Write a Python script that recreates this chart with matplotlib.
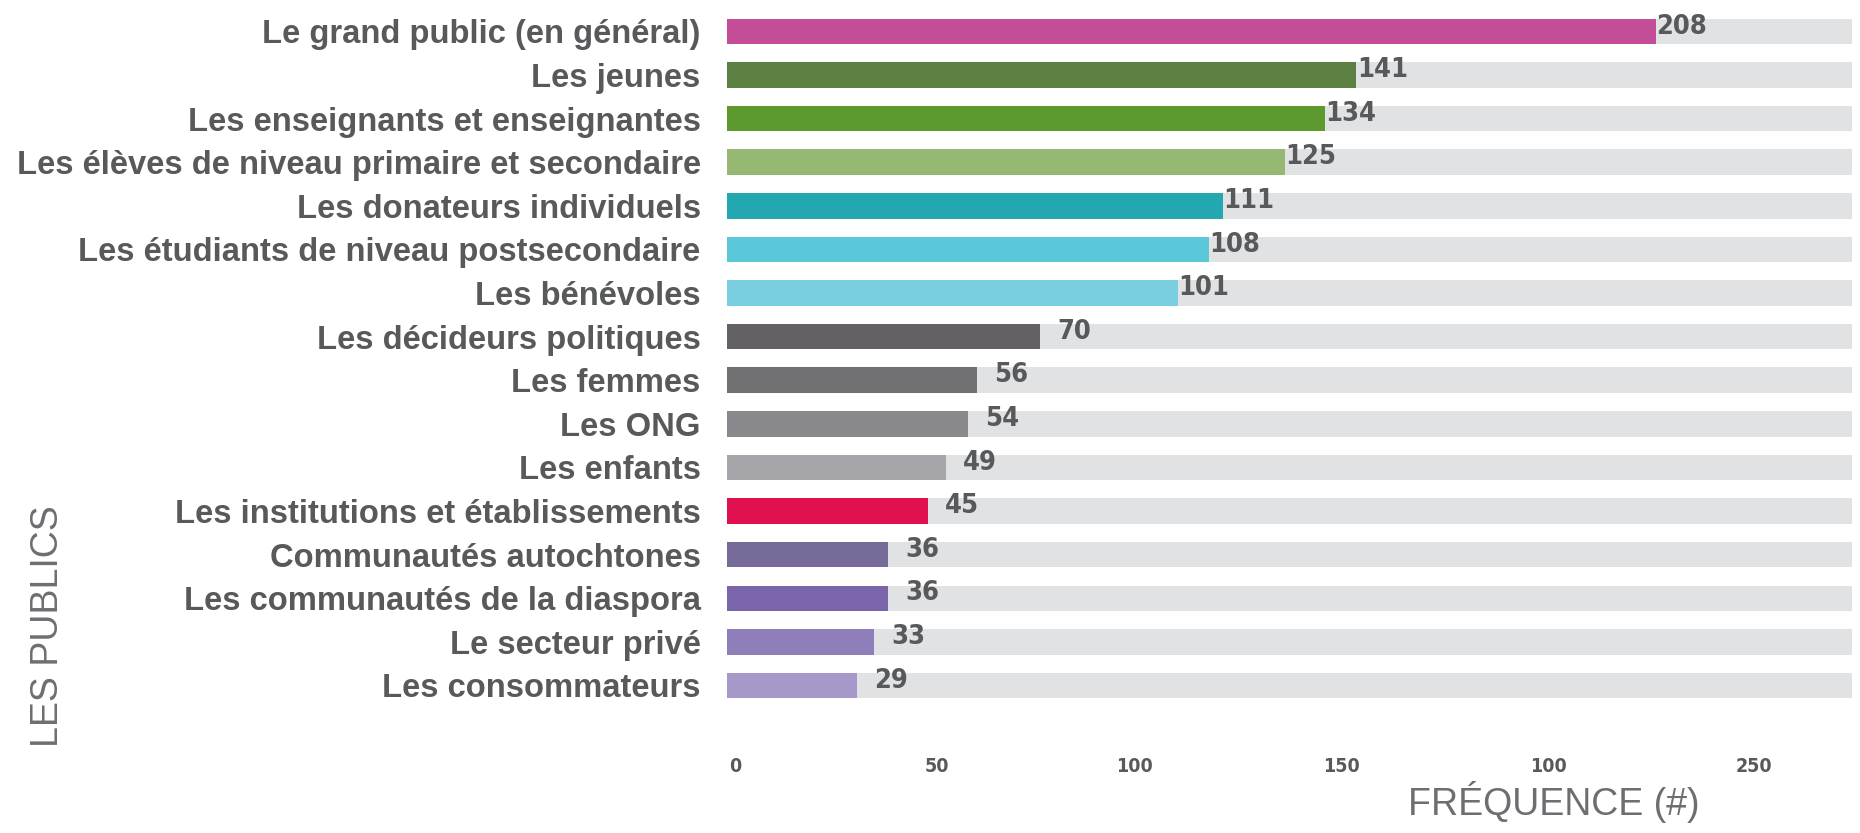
import numpy as np
import matplotlib
matplotlib.use("Agg")
import matplotlib.pyplot as plt

categories = [
    "Le grand public (en général)",
    "Les jeunes",
    "Les enseignants et enseignantes",
    "Les élèves de niveau primaire et secondaire",
    "Les donateurs individuels",
    "Les étudiants de niveau postsecondaire",
    "Les bénévoles",
    "Les décideurs politiques",
    "Les femmes",
    "Les ONG",
    "Les enfants",
    "Les institutions et établissements",
    "Communautés autochtones",
    "Les communautés de la diaspora",
    "Le secteur privé",
    "Les consommateurs",
]
values = [208, 141, 134, 125, 111, 108, 101, 70, 56, 54, 49, 45, 36, 36, 33, 29]
bar_colors = [
    "#C44D98", "#5C8041", "#5C9A2F", "#96B873", "#23A8B1", "#5BC8DA",
    "#79CEE0", "#636066", "#717073", "#89888D", "#A6A5AA", "#E1104F",
    "#766A99", "#7B65AA", "#8E7EB9", "#A698C8",
]
# the original axis labels (including the repeated "100")
tick_labels = ["0", "50", "100", "150", "100", "250"]
tick_positions = [1.8, 46.9, 91.3, 137.7, 184.1, 230]
track_max = 252

text_dark = "#58595B"
text_light = "#6D6E71"

fig = plt.figure(figsize=(18.6, 8.33), dpi=100)
ax = fig.add_axes([0.3909, 0.1509, 0.6048, 0.8376])

y = np.arange(len(categories))
ax.barh(y, [track_max] * len(y), height=0.585, color="#E1E2E4", zorder=1)
ax.barh(y, values, height=0.585, color=bar_colors, zorder=2)

for yi, v in zip(y, values):
    ax.annotate(str(v), xy=(v, yi), xytext=(37, 3.5), textcoords="offset points",
                ha="right", va="center", fontsize=19.5, fontweight="bold",
                fontstretch="condensed", family="DejaVu Sans",
                color=text_dark, zorder=3)

ax.set_xlim(0, track_max)
ax.set_ylim(len(y) - 0.5, -0.5)

ax.set_yticks(y)
ax.set_yticklabels(categories, fontsize=23.6, fontweight="bold", color=text_dark,
                   family=["Liberation Sans", "DejaVu Sans"])
ax.tick_params(axis="y", length=0, pad=19)

ax.set_xticks(tick_positions)
ax.set_xticklabels(tick_labels, fontsize=14, fontweight="bold", color=text_dark,
                   fontstretch="condensed", family="DejaVu Sans")
ax.tick_params(axis="x", length=0, pad=36)

for s in ax.spines.values():
    s.set_visible(False)

fig.text(1554 / 1860, 1 - 802 / 833, "FRÉQUENCE (#)", fontsize=27, color=text_light,
         ha="center", va="center", family=["Liberation Sans", "DejaVu Sans"])
fig.text(48 / 1860, 1 - 626 / 833, "LES PUBLICS", fontsize=27, color=text_light,
         ha="center", va="center", rotation=90,
         family=["Liberation Sans", "DejaVu Sans"])

fig.savefig("out.png", dpi=100, facecolor="white")
